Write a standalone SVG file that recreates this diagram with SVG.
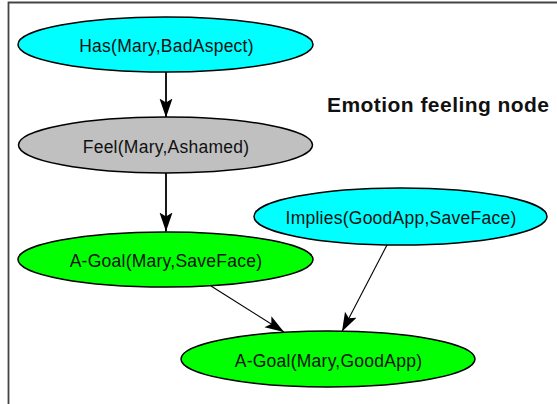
<svg xmlns="http://www.w3.org/2000/svg" width="557" height="404" viewBox="0 0 557 404">
<style>
.n{stroke:#000;stroke-width:1.5}
.t{font-family:"Liberation Sans",Arial,sans-serif;font-size:17.5px;letter-spacing:0.25px;fill:#111;text-anchor:middle}
.e{stroke:#000;fill:none}
</style>
<defs>
<marker id="ah" markerUnits="userSpaceOnUse" markerWidth="20" markerHeight="14" refX="19" refY="6.5" orient="auto" viewBox="0 0 20 14">
<path d="M0,0 L19,6.5 L0,13 L4,6.5 z" fill="#000"/>
</marker>
</defs>
<rect x="0" y="0" width="557" height="404" fill="#fff"/>
<path d="M8.5,404 V2.5 H557" fill="none" stroke="#444" stroke-width="1.8"/>
<text x="327" y="112" font-family="Liberation Sans,Arial,sans-serif" font-weight="bold" font-size="21" letter-spacing="0.45" fill="#111">Emotion feeling node</text>
<g id="connectors">
<line class="e" x1="166" y1="72" x2="166" y2="117.5" stroke-width="1.8" marker-end="url(#ah)"/>
<line class="e" x1="166" y1="173" x2="166" y2="231.5" stroke-width="1.8" marker-end="url(#ah)"/>
<line class="e" x1="211" y1="286" x2="284" y2="332" stroke-width="1.1" marker-end="url(#ah)"/>
<line class="e" x1="387" y1="245" x2="342" y2="331.5" stroke-width="1.1" marker-end="url(#ah)"/>
</g>
<g id="n1"><ellipse class="n" cx="165.5" cy="44.5" rx="147.5" ry="27.5" fill="#00FFFF"/><text class="t" x="166.5" y="52">Has(Mary,BadAspect)</text></g>
<g id="n2"><ellipse class="n" cx="165.5" cy="145" rx="147" ry="28" fill="#C0C0C0"/><text class="t" x="166" y="152.5">Feel(Mary,Ashamed)</text></g>
<g id="n3"><ellipse class="n" cx="165.5" cy="259.5" rx="147.5" ry="27.5" fill="#00FF00"/><text class="t" x="166" y="267">A-Goal(Mary,SaveFace)</text></g>
<g id="n4"><ellipse class="n" cx="400.5" cy="216.5" rx="146.5" ry="28.5" fill="#00FFFF"/><text class="t" x="401" y="224">Implies(GoodApp,SaveFace)</text></g>
<g id="n5"><ellipse class="n" cx="328" cy="359" rx="147" ry="28" fill="#00FF00"/><text class="t" x="328.5" y="366.5">A-Goal(Mary,GoodApp)</text></g>
</svg>
